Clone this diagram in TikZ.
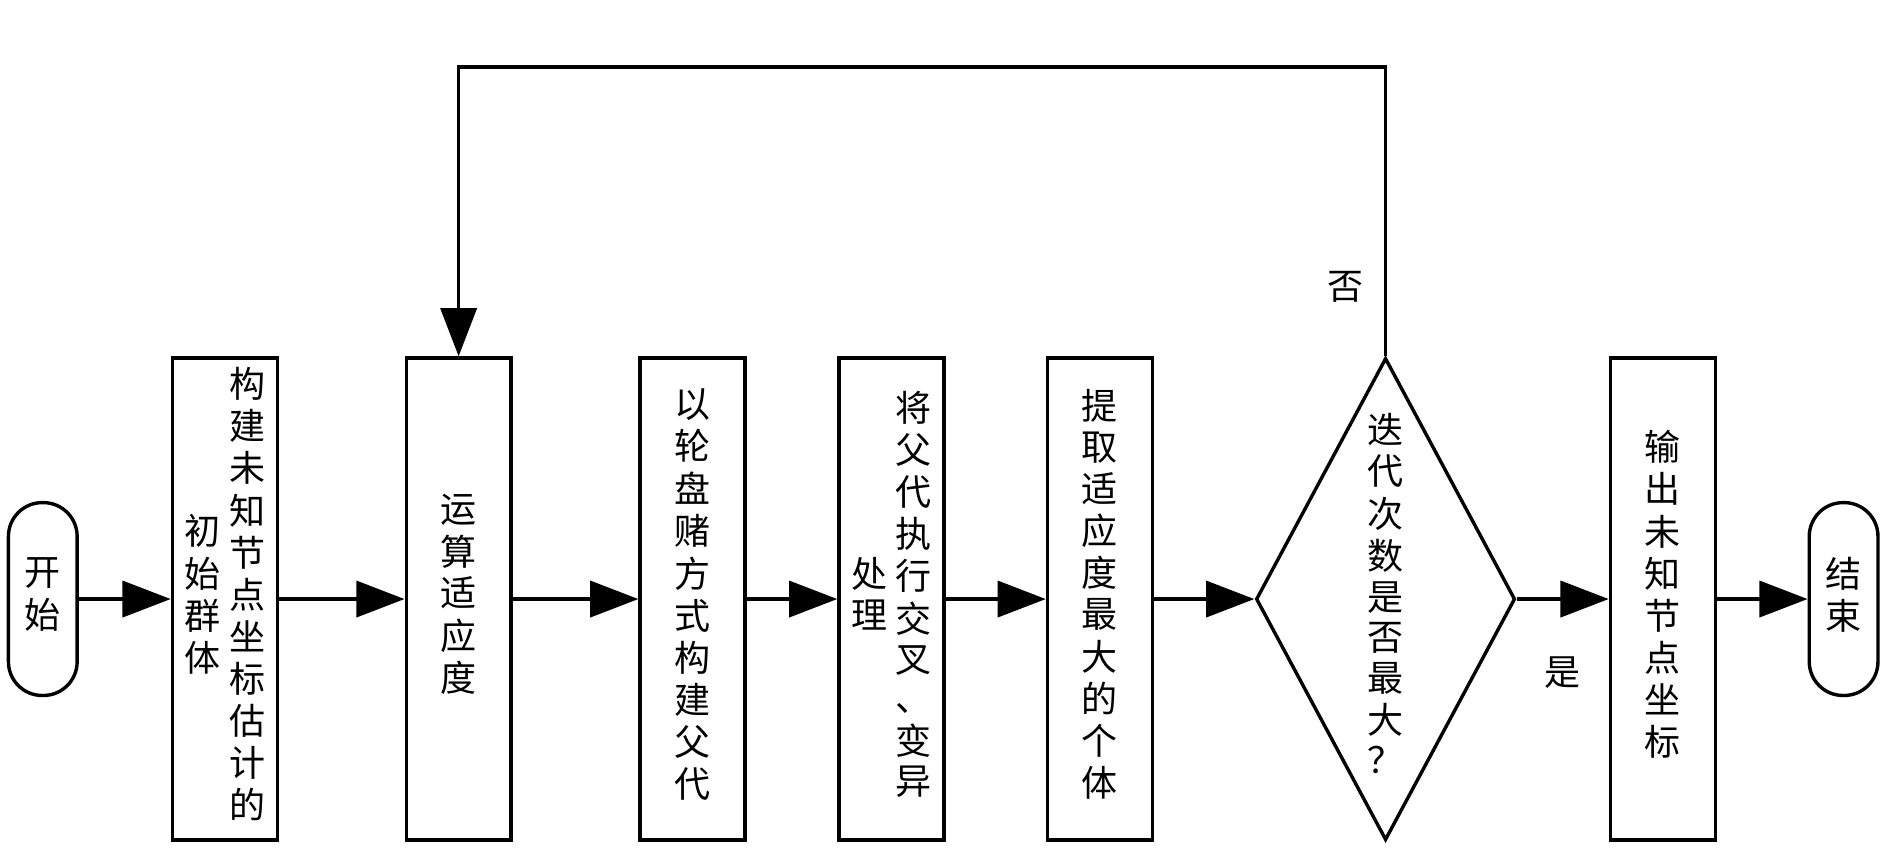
\documentclass[tikz,border=0pt]{standalone}
\usepackage{fontspec}
\newfontfamily\cjk{Noto Sans CJK SC}
\usetikzlibrary{arrows.meta,positioning,shapes.geometric}
\newcommand\vcol[1]{$\vcenter{\hbox{\begin{tabular}{@{}c@{}}#1\end{tabular}}}$}

\begin{document}
\begin{tikzpicture}[on grid,line width=0.8pt,
  font=\cjk\fontsize{8.5pt}{9.4pt}\selectfont,
  term/.style={draw,rounded corners=0.28cm,minimum width=0.57cm,minimum height=1.6cm,inner sep=0pt},
  proc/.style={draw,minimum width=0.87cm,minimum height=4cm,inner sep=0pt},
  decide/.style={draw,diamond,aspect=0.5,minimum width=2.15cm,minimum height=4cm,inner sep=0pt},
  flow/.style={-{Triangle[length=0.4cm,width=0.3cm]}}]

  \useasboundingbox (0,0) rectangle (15.68,7.05);

  \node[term]   (start)                        at (0.355,2.08) {\vcol{开\\始}};
  \node[proc]   (init)   [right=1.51cm of start]  {\vcol{初\\始\\群\\体}\hspace{0.07cm}\vcol{构\\建\\未\\知\\节\\点\\坐\\标\\估\\计\\的}};
  \node[proc]   (fit)    [right=1.94cm of init]   {\vcol{运\\算\\适\\应\\度}};
  \node[proc]   (select) [right=1.94cm of fit]    {\vcol{以\\轮\\盘\\赌\\方\\式\\构\\建\\父\\代}};
  \node[proc]   (cross)  [right=1.65cm of select] {\vcol{处\\理}\hspace{0.07cm}\vcol{将\\父\\代\\执\\行\\交\\叉\\、\\变\\异}};
  \node[proc]   (best)   [right=1.73cm of cross]  {\vcol{提\\取\\适\\应\\度\\最\\大\\的\\个\\体}};
  \node[decide] (check)  [right=2.37cm of best]   {\vcol{迭\\代\\次\\数\\是\\否\\最\\大\\？}};
  \node[proc]   (output) [right=2.30cm of check]  {\vcol{输\\出\\未\\知\\节\\点\\坐\\标}};
  \node[term]   (stop)   [right=1.50cm of output] {\vcol{结\\束}};

  \draw[flow] (start) -- (init);
  \draw[flow] (init) -- (fit);
  \draw[flow] (fit) -- (select);
  \draw[flow] (select) -- (cross);
  \draw[flow] (cross) -- (best);
  \draw[flow] (best) -- (check);
  \draw[flow] (check) -- node[midway,yshift=-0.61cm] (yes) {是} (output);
  \draw[flow] (output) -- (stop);

  % loop back when not finished
  \draw[flow] (check.north) -- node[pos=0.24,xshift=-0.33cm] (no) {否} ++(0,2.4) -| (fit.north);
\end{tikzpicture}
\end{document}
